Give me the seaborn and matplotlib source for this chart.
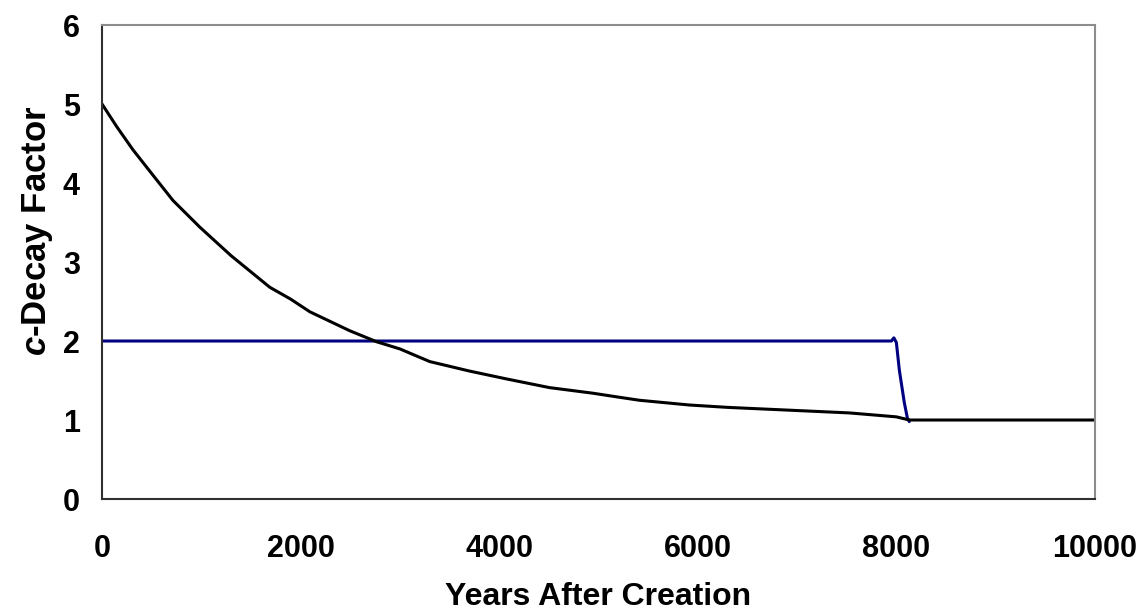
import matplotlib
matplotlib.use('Agg')
import matplotlib.pyplot as plt
import seaborn as sns
import pandas as pd

# values
decay_years = [0, 150, 312, 500, 714, 986, 1300, 1690, 1900, 2093, 2495, 2767,
               3000, 3300, 3700, 4074, 4507, 4940, 5200, 5412, 5915, 6300,
               6650, 7000, 7525, 8000, 8130, 10000]
decay_factor = [5.0, 4.71, 4.42, 4.12, 3.78, 3.44, 3.08, 2.68, 2.53, 2.37, 2.13, 1.99,
                1.90, 1.74, 1.62, 1.52, 1.41, 1.34, 1.29, 1.25, 1.19, 1.16,
                1.14, 1.12, 1.09, 1.04, 1.0, 1.0]

step_years = [0, 7950, 7975, 8000, 8030, 8080, 8110, 8130]
step_factor = [2.0, 2.0, 2.04, 1.98, 1.63, 1.22, 1.03, 0.98]

x_ticks = [0, 2000, 4000, 6000, 8000, 10000]
y_ticks = [0, 1, 2, 3, 4, 5, 6]

sns.set_style('white')
plt.rcParams['font.family'] = ['Liberation Sans', 'DejaVu Sans']
plt.rcParams['font.weight'] = 'bold'
plt.rcParams['text.color'] = 'black'
plt.rcParams['axes.labelcolor'] = 'black'
plt.rcParams['xtick.color'] = 'black'
plt.rcParams['ytick.color'] = 'black'
plt.rcParams['mathtext.fontset'] = 'custom'
plt.rcParams['mathtext.it'] = 'Liberation Sans:italic:bold'
plt.rcParams['mathtext.rm'] = 'Liberation Sans:bold'

df_decay = pd.DataFrame({'years': decay_years, 'c': decay_factor})
df_step = pd.DataFrame({'years': step_years, 'c': step_factor})

fig = plt.figure(figsize=(11.45, 6.15), dpi=100)
ax = fig.add_axes([0.0891, 0.1886, 0.8672, 0.7707])

sns.lineplot(data=df_step, x='years', y='c', color='#000080', linewidth=2.2, ax=ax, sort=False)
sns.lineplot(data=df_decay, x='years', y='c', color='black', linewidth=2.2, ax=ax, sort=False)

ax.set_xlim(0, 10000)
ax.set_ylim(0, 6)
ax.set_xticks(x_ticks)
ax.set_yticks(y_ticks)
ax.tick_params(axis='both', which='major', labelsize=22, length=7, width=1.2,
               direction='out', color='#202020', pad=9)
ax.tick_params(axis='x', pad=18)
for lab in ax.get_xticklabels() + ax.get_yticklabels():
    lab.set_fontweight('bold')

ax.spines['left'].set_color('#303030')
ax.spines['bottom'].set_color('#303030')
ax.spines['top'].set_color('#8c8c8c')
ax.spines['right'].set_color('#8c8c8c')
for s in ax.spines.values():
    s.set_linewidth(1.5)

ax.set_xlabel('Years After Creation', fontsize=23, fontweight='bold', va='center')
ax.set_ylabel(r'$\it{c}$-Decay Factor', fontsize=25, fontweight='bold', va='center')
ax.xaxis.set_label_coords(0.5, -0.207)
ax.yaxis.set_label_coords(-0.065, 0.567)

fig.savefig('out.png', dpi=100)
